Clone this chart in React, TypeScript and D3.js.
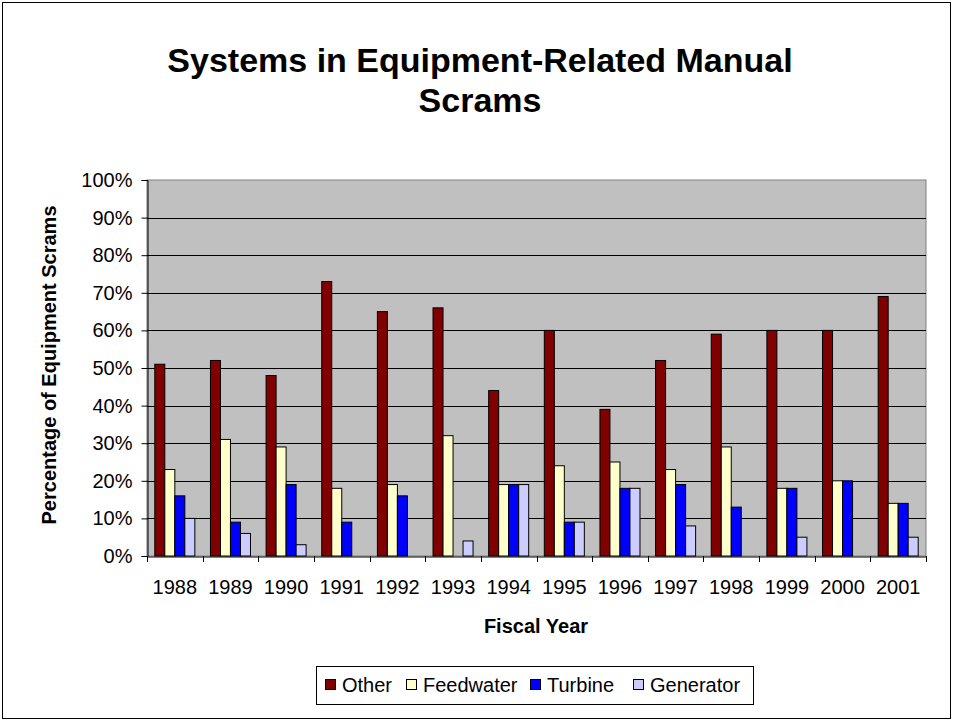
import React, { useEffect, useRef } from 'react';
import * as d3 from 'd3';

const years = ['1988', '1989', '1990', '1991', '1992', '1993', '1994', '1995', '1996', '1997', '1998', '1999', '2000', '2001'];
const seriesNames = ['Other', 'Feedwater', 'Turbine', 'Generator'];
const other = [51, 52, 48, 73, 65, 66, 44, 60, 39, 52, 59, 60, 60, 69];
const feedwater = [23, 31, 29, 18, 19, 32, 19, 24, 25, 23, 29, 18, 20, 14];
const turbine = [16, 9, 19, 9, 16, 0, 19, 9, 18, 19, 13, 18, 20, 14];
const generator = [10, 6, 3, 0, 0, 4, 19, 9, 18, 8, 0, 5, 0, 5];
const colors = ['#800000', '#ffffcc', '#0000ff', '#ccccff'];
const yTicks = [0, 10, 20, 30, 40, 50, 60, 70, 80, 90, 100];

const App = () => {
  const ref = useRef<SVGSVGElement>(null);

  useEffect(() => {
    const svg = d3.select(ref.current).attr('width', 953).attr('height', 721);
    svg.selectAll('*').remove();

    const font = 'Liberation Sans, Arial, sans-serif';
    const values = [other, feedwater, turbine, generator];

    // outer frame
    svg.append('rect')
      .attr('x', 2.5).attr('y', 2.5).attr('width', 948).attr('height', 716)
      .attr('fill', '#fff').attr('stroke', '#000');

    const left = 147, right = 926, top = 180, bottom = 556;

    const x0 = d3.scaleBand().domain(years).range([left, right]).padding(0);
    const x1 = d3.scaleBand().domain(seriesNames).range([0, x0.bandwidth()])
      .paddingInner(0).paddingOuter(0.78);
    const y = d3.scaleLinear().domain([0, 100]).range([bottom, top]);

    // plot background
    svg.append('rect')
      .attr('x', left).attr('y', top).attr('width', right - left).attr('height', bottom - top)
      .attr('fill', '#c0c0c0').attr('stroke', '#808080');

    // gridlines
    svg.append('g')
      .selectAll('line')
      .data(yTicks.filter(t => t > 0 && t < 100))
      .enter().append('line')
      .attr('x1', left).attr('x2', right)
      .attr('y1', d => Math.round(y(d)) + 0.5).attr('y2', d => Math.round(y(d)) + 0.5)
      .attr('stroke', '#000');

    // bars
    const bars = svg.append('g');
    years.forEach((yr, i) => {
      seriesNames.forEach((s, j) => {
        const v = values[j][i];
        if (v <= 0) return;
        bars.append('rect')
          .attr('x', (x0(yr) as number) + (x1(s) as number))
          .attr('y', y(v))
          .attr('width', x1.bandwidth())
          .attr('height', y(0) - y(v))
          .attr('fill', colors[j])
          .attr('stroke', '#000')
          .attr('stroke-width', 1);
      });
    });

    // axes
    const yAxis = svg.append('g')
      .attr('transform', `translate(${left + 0.5},0)`)
      .call(d3.axisLeft(y).tickValues(yTicks).tickSize(6).tickFormat(d => `${d}%`));
    yAxis.select('.domain').attr('stroke', '#000');
    yAxis.selectAll('text').attr('font-family', font).attr('font-size', 20).attr('fill', '#000').attr('dx', '-6');

    const xAxis = svg.append('g')
      .attr('transform', `translate(0,${bottom + 0.5})`)
      .call(d3.axisBottom(x0).tickSize(0).tickSizeOuter(0));
    xAxis.select('.domain').attr('stroke', '#000');
    xAxis.selectAll('text').attr('font-family', font).attr('font-size', 20).attr('fill', '#000')
      .attr('dy', null).attr('y', 37);
    svg.append('g')
      .selectAll('line')
      .data(years.map(yr => x0(yr) as number).concat([right]))
      .enter().append('line')
      .attr('x1', d => Math.round(d) + 0.5).attr('x2', d => Math.round(d) + 0.5)
      .attr('y1', bottom).attr('y2', bottom + 6)
      .attr('stroke', '#000');

    // titles
    const title = svg.append('text')
      .attr('text-anchor', 'middle').attr('font-family', font)
      .attr('font-weight', 'bold').attr('font-size', 34);
    title.append('tspan').attr('x', 480).attr('y', 72).text('Systems in Equipment-Related Manual');
    title.append('tspan').attr('x', 480).attr('y', 112).text('Scrams');

    svg.append('text')
      .attr('x', 536).attr('y', 633)
      .attr('text-anchor', 'middle').attr('font-family', font)
      .attr('font-weight', 'bold').attr('font-size', 20)
      .text('Fiscal Year');

    svg.append('text')
      .attr('transform', `translate(56,${(top + bottom) / 2 - 3}) rotate(-90)`)
      .attr('text-anchor', 'middle').attr('font-family', font)
      .attr('font-weight', 'bold').attr('font-size', 20)
      .text('Percentage of Equipment Scrams');

    // legend
    const legend = svg.append('g');
    legend.append('rect')
      .attr('x', 316.5).attr('y', 666.5).attr('width', 437).attr('height', 38)
      .attr('fill', '#fff').attr('stroke', '#000');
    const legendX = [325, 406, 530, 633];
    seriesNames.forEach((s, j) => {
      legend.append('rect')
        .attr('x', legendX[j] + 0.5).attr('y', 679.5).attr('width', 10).attr('height', 10)
        .attr('fill', colors[j]).attr('stroke', '#000');
      legend.append('text')
        .attr('x', legendX[j] + 17).attr('y', 692)
        .attr('font-family', font).attr('font-size', 20)
        .text(s);
    });
  }, []);

  return <svg ref={ref} style={{ position: 'absolute', left: 0, top: 0 }}></svg>;
};

export default App;
